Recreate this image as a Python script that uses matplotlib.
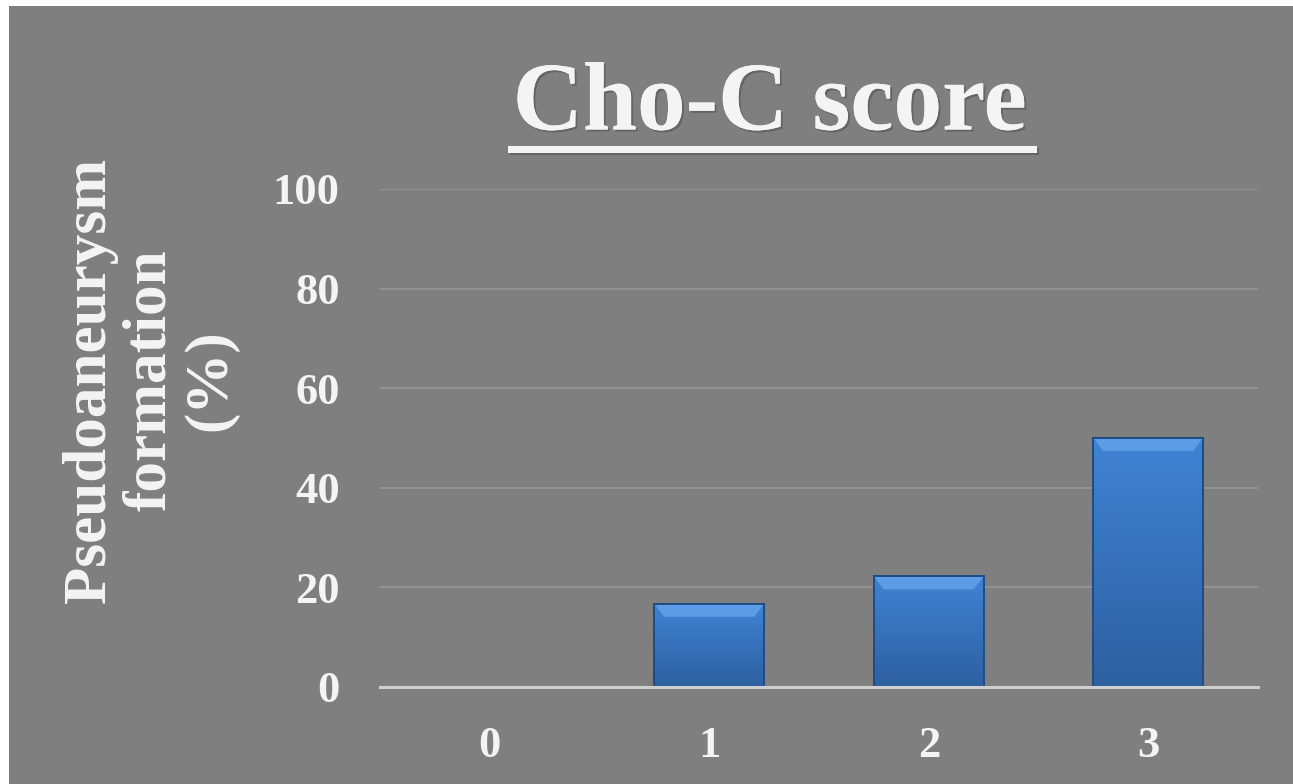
import matplotlib
matplotlib.use('Agg')
import matplotlib.pyplot as plt
import matplotlib.patheffects as pe
from matplotlib.patches import Rectangle, Polygon
import numpy as np

categories = ["0", "1", "2", "3"]
values = [0, 16.7, 22.2, 50]
yticks = [0, 20, 40, 60, 80, 100]

BG = "#7f7f7f"
TXT = "#f4f4f4"
FONT = "Liberation Serif"

fig = plt.figure(figsize=(12.93, 7.84), dpi=100, facecolor="white")
# gray panel (white margin at top/left like the reference)
fig.patches.append(Rectangle((9 / 1293, 0), 1 - 9 / 1293, 1 - 6 / 784,
                             transform=fig.transFigure, facecolor=BG,
                             edgecolor="none", zorder=-5))

ax = fig.add_axes([380 / 1293, 1 - 687 / 784, 878 / 1293, 498 / 784])
ax.set_facecolor("none")
ax.set_zorder(2)

x = np.arange(len(categories))
bars = ax.bar(x, values, width=0.5, color="#3b78c6", edgecolor="#1f4c85",
              linewidth=1.4, zorder=3)

# vertical gradient + bevelled top on each bar
grad = np.linspace(0, 1, 256).reshape(-1, 1)
cmap = matplotlib.colors.LinearSegmentedColormap.from_list(
    "bar", ["#2d60a0", "#4083d4"])
bev_h, bev_in = 2.6, 0.045
for b in bars:
    h = b.get_height()
    if h <= 0:
        continue
    x0, w = b.get_x(), b.get_width()
    im = ax.imshow(grad, cmap=cmap, aspect="auto", origin="lower",
                   extent=[x0, x0 + w, 0, h], zorder=3.5)
    im.set_clip_path(b)
    ax.add_patch(Polygon([(x0, h), (x0 + w, h), (x0 + w - bev_in, h - bev_h),
                          (x0 + bev_in, h - bev_h)], closed=True,
                         facecolor="#5c9be6", edgecolor="none", zorder=4))
    ax.add_patch(Rectangle((x0, 0), w, h, facecolor="none",
                           edgecolor="#1f4c85", linewidth=1.4, zorder=4.5))

ax.set_xlim(-0.5, 3.5)
ax.set_ylim(0, 100)
ax.set_yticks(yticks)
ax.set_xticks(x)
ax.set_xticklabels(categories)
ax.grid(axis="y", color="#969696", linewidth=1.2, zorder=1)
ax.set_axisbelow(True)
for s in ["top", "right", "left"]:
    ax.spines[s].set_visible(False)
ax.spines["bottom"].set_color("#cfcfcf")
ax.spines["bottom"].set_linewidth(2.2)
ax.spines["bottom"].set_zorder(5)
ax.tick_params(axis="both", length=0, colors=TXT)
ax.tick_params(axis="y", pad=29)
ax.tick_params(axis="x", pad=28)
for lab in ax.get_xticklabels() + ax.get_yticklabels():
    lab.set_fontfamily(FONT)
    lab.set_fontweight("bold")
    lab.set_fontsize(32)
    lab.set_color(TXT)

shadow = [pe.withSimplePatchShadow(offset=(1.5, -1.5), shadow_rgbFace="#555555", alpha=0.6),
          pe.Normal()]

t = fig.text(770 / 1293, 1 - 106 / 784, "Cho-C score", ha="center", va="center",
             fontfamily=FONT, fontweight="bold", fontsize=70, color=TXT)
t.set_path_effects(shadow)
fig.patches.append(Rectangle((508 / 1293, 1 - 153 / 784), 529 / 1293, 7 / 784,
                             transform=fig.transFigure, facecolor=TXT,
                             edgecolor="none", zorder=2,
                             path_effects=shadow))

fig.text(150 / 1293, 1 - 380 / 784, "Pseudoaneurysm\nformation\n(%)",
         ha="center", va="center", rotation=90, multialignment="center",
         fontfamily=FONT, fontweight="bold", fontsize=44, color=TXT,
         linespacing=1.1)

fig.savefig("out.png", dpi=100, facecolor=fig.get_facecolor())
